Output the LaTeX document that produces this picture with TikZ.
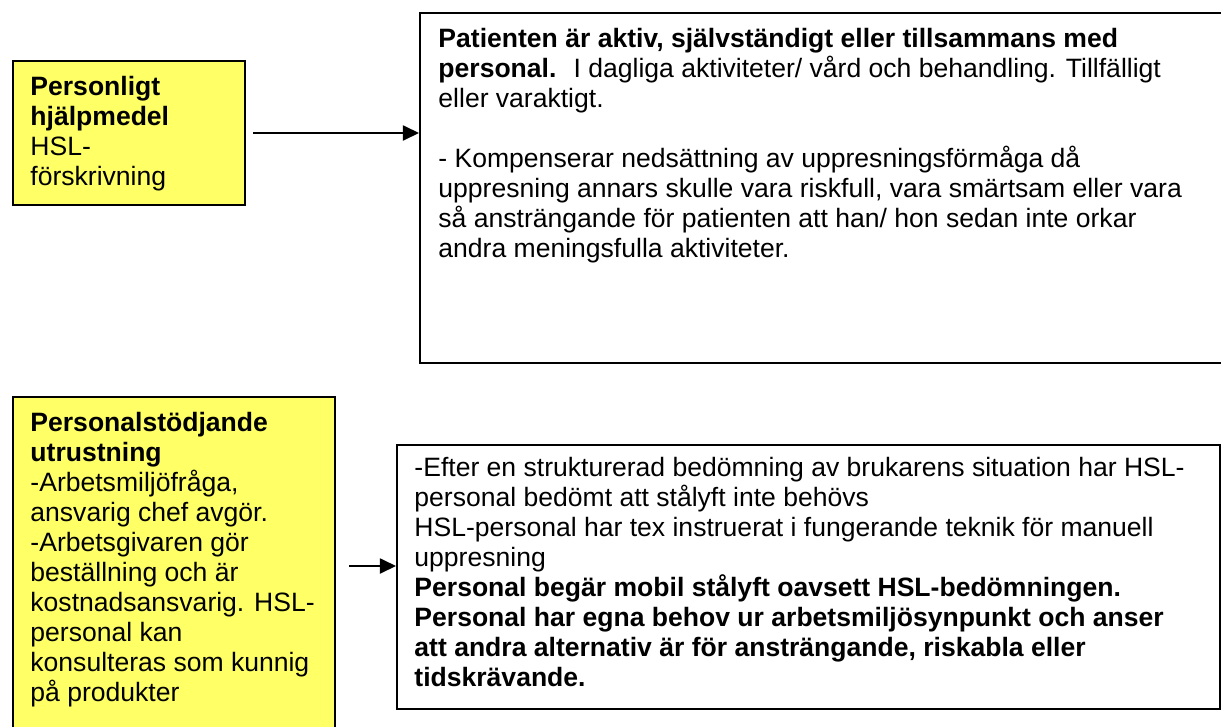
\documentclass[tikz,border=0pt]{standalone}
\usepackage{fontspec}
\setmainfont{Liberation Sans}
\usetikzlibrary{arrows.meta, positioning, fit}
\definecolor{aidyellow}{RGB}{255, 255, 102}

\tikzset{
  box/.style={draw, line width=0.9pt, inner sep=0pt},
  yellowbox/.style={box, fill=aidyellow},
  boxtext/.style={anchor=north west, inner sep=0pt, align=left, font=\fontsize{12.25pt}{13.85pt}\selectfont},
  link/.style={line width=0.9pt, -{Triangle[length=7.5pt, width=7pt]}}
}

\begin{document}
\begin{tikzpicture}[x=0.4615pt, y=-0.4615pt]
\clip (0,0) rectangle (1221,726);
\fill[white] (0,0) rectangle (1221,726);

% Personal aid
\node[yellowbox, fit={(13,61) (245,205)}] (hjalp) {};
\node[boxtext] (hjalptext) at ([shift={(18,16)}]hjalp.north west)
  {\textbf{Personligt}\\\textbf{hjälpmedel}\\HSL-\\förskrivning};

% Patient active
\node[box, fit={(420,13) (1232,363)}] (aktiv) {};
\node[boxtext] (aktivtext) at ([shift={(19,16)}]aktiv.north west)
  {\textbf{Patienten är aktiv, självständigt eller tillsammans med}\\
   \textbf{personal.}~ I dagliga aktiviteter/ vård och behandling. Tillfälligt\\
   eller varaktigt.\\[13.85pt]
   - Kompenserar nedsättning av uppresningsförmåga då\\
   uppresning annars skulle vara riskfull, vara smärtsam eller vara\\
   så ansträngande för patienten att han/ hon sedan inte orkar\\
   andra meningsfulla aktiviteter.};

% Staff equipment
\node[yellowbox, fit={(13,397) (335,745)}] (stod) {};
\node[boxtext] (stodtext) at ([shift={(18,16)}]stod.north west)
  {\textbf{Personalstödjande}\\\textbf{utrustning}\\
   -Arbetsmiljöfråga,\\ansvarig chef avgör.\\
   -Arbetsgivaren gör\\beställning och är\\
   kostnadsansvarig. HSL-\\personal kan\\
   konsulteras som kunnig\\på produkter};

% Assessment
\node[box, fit={(397,445) (1220,709)}] (bedom) {};
\node[boxtext] (bedomtext) at ([shift={(18,13)}]bedom.north west)
  {-Efter en strukturerad bedömning av brukarens situation har HSL-\\
   personal bedömt att stålyft inte behövs\\
   HSL-personal har tex instruerat i fungerande teknik för manuell\\
   uppresning\\
   \textbf{Personal begär mobil stålyft oavsett HSL-bedömningen.}\\
   \textbf{Personal har egna behov ur arbetsmiljösynpunkt och anser}\\
   \textbf{att andra alternativ är för ansträngande, riskabla eller}\\
   \textbf{tidskrävande.}};

% Arrows
\coordinate (from1) at (253,133);
\draw[link] (from1) -- (from1 -| aktiv.west);
\coordinate (from2) at (349,566);
\draw[link] (from2) -- (from2 -| bedom.west);
\end{tikzpicture}
\end{document}
